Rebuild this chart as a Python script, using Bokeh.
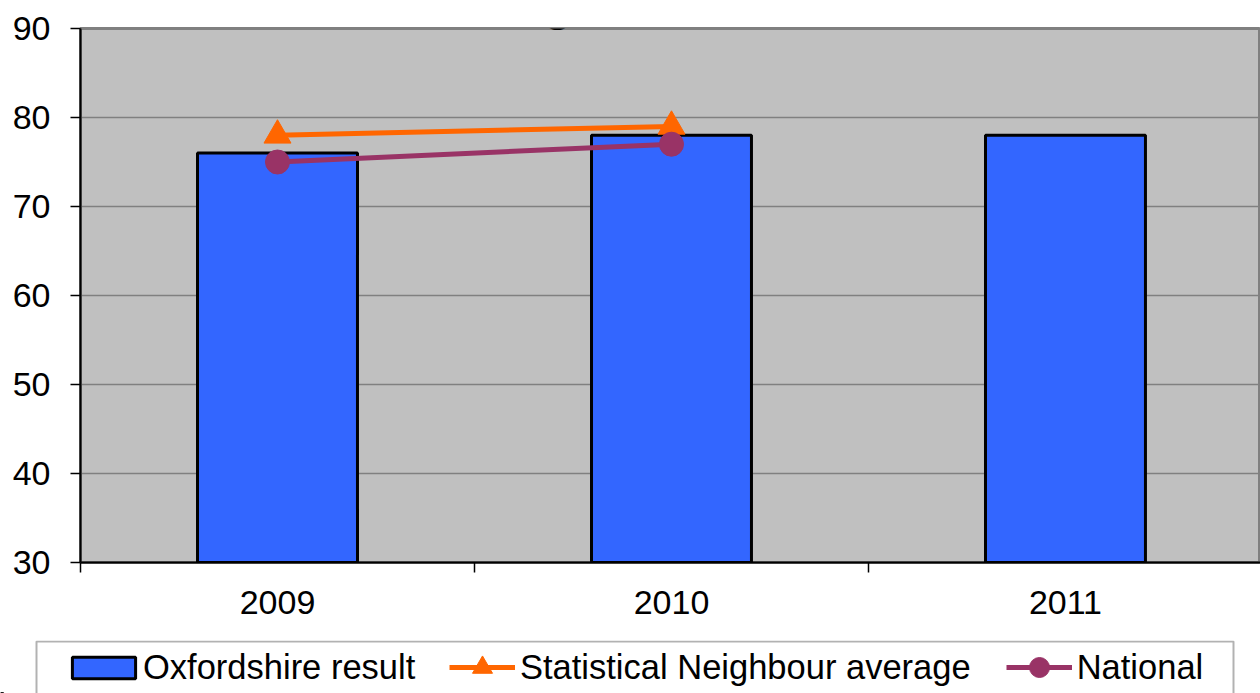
from bokeh.plotting import figure
from bokeh.layouts import column
from bokeh.models import Range1d, FixedTicker, Legend, LegendItem, Label, BoxAnnotation
from bokeh.embed import file_html
from bokeh.resources import INLINE

# ---- data ----
years = ["2009", "2010", "2011"]
oxfordshire = [76, 78, 78]
stat_neighbour = [78, 79]
national = [75, 77]
y_ticks = [30, 40, 50, 60, 70, 80, 90]
title_text = "in English and maths"
series_names = ["Oxfordshire result", "Statistical Neighbour average", "National"]

FONT = "Liberation Sans"
BAR_COLOR = "#3366FF"
SN_COLOR = "#FF6600"
NAT_COLOR = "#993366"

centers = [i + 0.5 for i in range(len(years))]
boundaries = list(range(len(years) + 1))

p = figure(width=1260, height=640, output_backend="svg", toolbar_location=None,
           x_range=Range1d(0, 2.995), y_range=Range1d(30, 90),
           min_border_left=80, min_border_right=0, min_border_top=28,
           min_border_bottom=78)
p.background_fill_color = "#C0C0C0"
p.border_fill_color = "white"
p.outline_line_color = "#808080"
p.outline_line_width = 3

p.vbar(x=centers, top=oxfordshire, bottom=30, width=0.406,
       fill_color=BAR_COLOR, line_color="black", line_width=3)
p.line(centers[:len(stat_neighbour)], stat_neighbour, line_color=SN_COLOR, line_width=5)
p.scatter(centers[:len(stat_neighbour)], stat_neighbour, marker="triangle", size=27,
          fill_color=SN_COLOR, line_color=SN_COLOR)
p.line(centers[:len(national)], national, line_color=NAT_COLOR, line_width=5)
p.scatter(centers[:len(national)], national, marker="circle", size=24,
          fill_color=NAT_COLOR, line_color=NAT_COLOR)

# grid
p.xgrid.visible = False
p.ygrid.ticker = FixedTicker(ticks=y_ticks)
p.ygrid.grid_line_color = "#808080"
p.ygrid.grid_line_width = 1.5

# x axis
p.xaxis.ticker = FixedTicker(ticks=centers, minor_ticks=boundaries)
p.xaxis.major_label_overrides = {c: y for c, y in zip(centers, years)}
p.xaxis.major_tick_line_color = None
p.xaxis.major_tick_out = 10
p.xaxis.major_tick_in = 0
p.xaxis.minor_tick_out = 10
p.xaxis.minor_tick_in = 0
p.xaxis.minor_tick_line_color = "black"
p.xaxis.minor_tick_line_width = 1.5
p.xaxis.axis_line_color = "black"
p.xaxis.axis_line_width = 2
p.xaxis.major_label_standoff = 18
p.xaxis.major_label_text_font = FONT
p.xaxis.major_label_text_font_size = "34px"
p.xaxis.major_label_text_color = "black"

# y axis
p.yaxis.ticker = FixedTicker(ticks=y_ticks)
p.yaxis.minor_tick_line_color = None
p.yaxis.major_tick_out = 10
p.yaxis.major_tick_in = 0
p.yaxis.major_tick_line_color = "black"
p.yaxis.major_tick_line_width = 1.5
p.yaxis.axis_line_color = "black"
p.yaxis.axis_line_width = 2
p.yaxis.major_label_standoff = 20
p.yaxis.major_label_text_font = FONT
p.yaxis.major_label_text_font_size = "34px"
p.yaxis.major_label_text_color = "black"

# title (clipped at the top, as in the reference)
p.add_layout(Label(x=1.472, y=92.6, text=title_text, text_font=FONT,
                   text_font_style="bold", text_font_size="45px",
                   text_align="center", text_baseline="alphabetic",
                   text_color="black"))

# ---- legend strip (own canvas, not frame-aligned, data units = pixels) ----
W, H = 1260, 53
lg = figure(width=W, height=H, output_backend="svg", toolbar_location=None,
            x_range=Range1d(0, W), y_range=Range1d(0, H),
            x_axis_type=None, y_axis_type=None, min_border=0)
lg.frame_align = False
lg.min_border_left = 0
lg.min_border_right = 0
lg.min_border_top = 0
lg.min_border_bottom = 0
lg.grid.visible = False
lg.outline_line_color = None
lg.background_fill_color = "white"
lg.border_fill_color = "white"
# the legend proxies use a range that keeps them out of view
lg.extra_y_ranges = {"hidden": Range1d(1000, 2000)}

d_bar = lg.vbar(x=centers, top=oxfordshire, bottom=30, width=0.406,
                fill_color=BAR_COLOR, line_color="black", line_width=3,
                y_range_name="hidden")
d_sn_l = lg.line(centers[:len(stat_neighbour)], stat_neighbour, line_color=SN_COLOR,
                 line_width=5, y_range_name="hidden")
d_sn_m = lg.scatter(centers[:len(stat_neighbour)], stat_neighbour, marker="triangle",
                    fill_color=SN_COLOR, line_color=SN_COLOR, y_range_name="hidden")
d_nat_l = lg.line(centers[:len(national)], national, line_color=NAT_COLOR,
                  line_width=5, y_range_name="hidden")
d_nat_m = lg.scatter(centers[:len(national)], national, marker="circle",
                     fill_color=NAT_COLOR, line_color=NAT_COLOR, y_range_name="hidden")

def style(leg):
    leg.label_text_font = FONT
    leg.label_text_font_size = "34.5px"
    leg.label_text_color = "black"
    leg.label_height = 40
    leg.padding = 0
    leg.margin = 0
    leg.border_line_color = None
    leg.background_fill_alpha = 0
    leg.orientation = "horizontal"

legA = Legend(items=[LegendItem(label=series_names[0], renderers=[d_bar])],
              location=(64, 6))
style(legA)
legA.glyph_width = 79
legA.glyph_height = 27
legA.label_standoff = 0

legB = Legend(items=[LegendItem(label=series_names[1], renderers=[d_sn_l, d_sn_m]),
                     LegendItem(label=series_names[2], renderers=[d_nat_l, d_nat_m])],
              location=(449, 1))
style(legB)
legB.glyph_width = 66
legB.glyph_height = 50
legB.label_standoff = 5
legB.spacing = 35

lg.add_layout(BoxAnnotation(left=36, right=1233, top=52, bottom=-10,
                            fill_alpha=0, line_color="black", line_width=2))
lg.add_layout(legA)
lg.add_layout(legB)

layout = column(p, lg, spacing=0)
open("out.html", "w").write(file_html(layout, INLINE))
